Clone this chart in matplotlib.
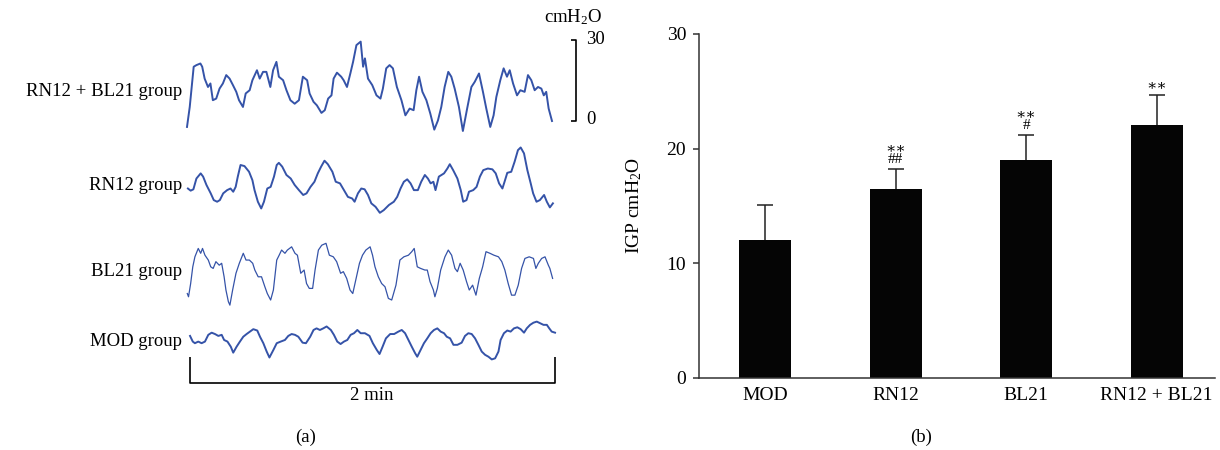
import matplotlib
matplotlib.use('Agg')
import matplotlib.pyplot as plt
import numpy as np

plt.rcParams['font.family'] = ['Liberation Serif', 'DejaVu Serif']
plt.rcParams['mathtext.fontset'] = 'custom'
plt.rcParams['mathtext.rm'] = 'Liberation Serif'
plt.rcParams['mathtext.it'] = 'Liberation Serif:italic'

# --- panel (a): pressure traces, time in s, pressure in cmH2O ---
t_combo = [0, 0.9, 2.2, 3.1, 4.4, 5.0, 5.8, 6.9, 7.7, 8.5, 9.6, 10.7, 11.8, 12.9, 14.0, 15.1, 16.2, 17.1,
           18.4, 19.3, 20.6, 21.5, 23.0, 23.9, 25.0, 26.1, 27.4, 28.3, 29.4, 30.2, 31.6, 32.7, 34.0, 35.4,
           36.8, 38.1, 39.5, 40.3, 41.6, 42.7, 44.2, 45.3, 46.4, 47.5, 48.2, 49.3, 50.7, 51.5, 52.6, 53.7,
           54.6, 55.7, 57.1, 57.9, 58.5, 59.5, 60.9, 62.3, 63.6, 64.4, 65.5, 66.6, 67.7, 69.0, 70.5, 71.8,
           73.2, 74.5, 75.4, 76.3, 77.4, 78.7, 80.0, 81.3, 82.5, 83.6, 84.7, 85.9, 86.9, 88.0, 89.4, 90.7,
           92.1, 93.5, 94.6, 96.0, 97.3, 98.4, 99.7, 100.8, 101.7, 103.0, 104.1, 105.2, 106.1, 107.2, 108.5,
           109.6, 111.0, 112.1, 113.2, 114.3, 115.4, 116.5, 117.3, 118.1, 118.9, 120.0]
p_combo = [-2.2, 5.2, 20.1, 20.7, 21.3, 20.1, 15.7, 12.6, 13.9, 7.7, 8.3, 12.0, 13.9, 17.0, 15.7, 13.3, 10.8,
           7.7, 5.2, 10.2, 11.4, 15.1, 18.8, 15.7, 18.2, 18.2, 12.6, 18.8, 21.9, 16.4, 15.1, 11.4, 7.7, 6.4,
           7.7, 16.4, 15.1, 10.2, 7.1, 5.8, 3.0, 4.0, 8.3, 9.5, 15.7, 17.9, 16.4, 15.1, 12.6, 17.6, 21.9,
           28.1, 29.4, 20.1, 23.2, 15.7, 13.3, 9.5, 8.3, 12.0, 19.5, 20.7, 19.5, 12.6, 7.7, 2.1, 4.6, 4.0,
           11.4, 16.4, 10.8, 7.7, 2.7, -3.2, 0.2, 5.2, 12.6, 18.2, 16.4, 12.0, 5.2, -3.7, 4.6, 12.6, 14.5,
           17.6, 10.8, 4.6, -2.2, 2.1, 8.9, 15.1, 19.5, 16.4, 18.8, 13.9, 9.5, 11.4, 10.8, 17.0, 15.1, 11.4,
           12.6, 12.0, 9.5, 10.8, 4.6, 0.0]

t_rn12 = [0, 0.9, 1.8, 2.8, 4.2, 5.0, 6.1, 7.5, 8.5, 9.6, 10.5, 11.6, 12.9, 14.0, 14.9, 15.7, 16.4, 17.3,
          18.6, 20.1, 21.2, 21.9, 23.0, 24.1, 25.0, 26.1, 27.2, 28.3, 29.2, 29.9, 31.0, 32.4, 33.8, 35.1,
          36.5, 37.9, 39.0, 40.3, 41.6, 42.7, 43.8, 44.9, 46.0, 47.5, 48.6, 50.0, 51.3, 52.6, 54.0, 54.8,
          55.9, 57.0, 58.1, 59.2, 60.3, 61.7, 63.1, 64.4, 66.1, 67.7, 68.8, 69.9, 71.0, 72.1, 73.2, 74.3,
          75.6, 76.7, 77.9, 78.9, 79.8, 80.7, 81.4, 82.5, 84.2, 85.3, 86.1, 87.2, 88.6, 89.7, 90.5, 91.6,
          92.4, 93.8, 94.9, 96.0, 97.1, 98.6, 100.1, 101.2, 102.3, 103.4, 104.1, 105.0, 106.3, 107.4, 108.5,
          109.4, 110.5, 111.6, 112.7, 113.5, 114.6, 115.7, 117.1, 118.0, 119.0, 120.0]
p_rn12 = [8.0, 7.2, 7.7, 11.7, 13.6, 12.4, 9.3, 6.2, 3.7, 3.1, 3.7, 6.2, 7.4, 8.0, 6.8, 8.6, 12.4, 16.7,
          16.3, 14.2, 11.1, 7.4, 3.1, 0.6, 3.1, 8.0, 8.6, 12.4, 16.7, 17.5, 16.1, 13.0, 11.7, 9.3, 7.4, 5.6,
          6.2, 8.6, 10.5, 13.6, 16.1, 18.3, 17.0, 14.2, 10.5, 9.9, 7.4, 4.9, 4.3, 3.1, 6.2, 8.0, 7.7, 5.6,
          2.5, 1.2, -1.0, 0.0, 1.9, 3.1, 4.9, 8.0, 10.5, 11.4, 9.9, 7.4, 7.4, 10.5, 13.0, 11.7, 9.9, 10.5,
          7.4, 12.4, 13.6, 15.4, 17.0, 14.8, 11.7, 7.4, 3.1, 3.7, 6.8, 7.4, 8.6, 12.4, 14.8, 15.4, 15.1,
          13.6, 9.9, 8.0, 10.5, 13.8, 14.2, 17.9, 22.2, 23.2, 21.0, 14.8, 9.9, 6.2, 3.1, 3.7, 5.6, 3.1,
          1.0, 2.5]

t_bl21 = [0, 0.4, 1.1, 1.8, 2.5, 3.6, 4.4, 5.0, 5.8, 6.9, 7.7, 8.5, 9.4, 10.5, 11.3, 12.1, 12.7, 13.5,
          14.0, 14.9, 16.0, 17.1, 18.4, 19.3, 20.4, 21.5, 22.2, 23.3, 24.4, 25.5, 26.3, 27.4, 28.3, 29.4,
          30.2, 31.0, 32.1, 32.9, 34.3, 35.4, 36.2, 37.3, 38.4, 39.2, 40.1, 41.2, 42.0, 43.1, 44.2, 45.6,
          46.7, 48.0, 49.1, 50.4, 51.3, 52.4, 53.5, 54.4, 55.5, 56.6, 57.6, 58.7, 60.1, 60.9, 61.7, 62.8,
          63.9, 65.0, 66.1, 67.2, 68.6, 69.9, 71.2, 72.7, 73.8, 74.6, 75.6, 76.7, 78.1, 78.9, 79.8, 80.9,
          81.4, 82.2, 83.3, 84.7, 85.8, 86.9, 88.0, 88.8, 89.7, 90.7, 91.8, 92.7, 93.8, 94.9, 96.0, 97.1,
          98.2, 99.5, 100.8, 102.3, 103.4, 104.4, 105.5, 106.6, 107.7, 108.8, 109.9, 111.0, 112.4, 113.8,
          114.6, 115.4, 116.5, 117.6, 118.7, 119.2, 120.1]
p_bl21 = [4.9, 3.7, 8.6, 14.8, 18.5, 21.6, 19.8, 21.6, 19.1, 17.3, 14.8, 14.2, 16.7, 15.4, 16.1, 11.1, 6.2,
          1.9, 0.6, 6.2, 12.4, 16.1, 19.8, 17.3, 17.3, 16.1, 13.6, 11.1, 11.1, 7.4, 4.9, 2.5, 6.2, 17.3,
          19.1, 21.0, 19.8, 21.0, 22.2, 19.8, 19.1, 12.4, 13.6, 8.6, 6.8, 6.8, 13.6, 21.0, 22.8, 23.5, 19.1,
          18.5, 16.7, 12.4, 13.0, 10.5, 6.2, 4.9, 10.5, 16.1, 19.1, 21.0, 22.2, 19.1, 14.8, 11.1, 8.6, 7.4,
          3.1, 2.5, 8.0, 17.3, 18.5, 19.1, 20.4, 21.6, 14.8, 14.2, 13.6, 13.6, 9.3, 6.2, 3.7, 6.8, 13.6,
          18.5, 21.0, 19.1, 14.2, 13.0, 16.1, 13.6, 9.3, 6.2, 8.0, 4.3, 10.5, 14.8, 20.4, 19.8, 19.1, 18.5,
          16.7, 13.6, 8.6, 4.3, 4.3, 8.0, 14.2, 17.9, 18.5, 17.9, 14.2, 16.1, 17.9, 18.5, 15.4, 14.2, 10.5]

t_mod = [0, 0.9, 1.6, 2.7, 3.8, 4.9, 6.0, 7.1, 8.2, 9.3, 10.4, 11.2, 12.3, 13.4, 14.2, 15.3, 16.4, 17.5,
         18.6, 19.7, 20.8, 22.1, 23.0, 24.1, 25.2, 26.1, 27.4, 28.5, 29.8, 31.2, 32.3, 33.4, 34.5, 35.6,
         37.0, 38.1, 39.5, 40.6, 41.6, 42.7, 43.8, 44.9, 46.3, 47.3, 48.4, 49.5, 50.6, 51.7, 52.8, 53.9,
         55.0, 56.1, 57.5, 59.0, 60.1, 61.4, 62.3, 63.3, 64.4, 65.8, 67.1, 68.5, 69.6, 70.7, 71.8, 72.9,
         74.0, 74.7, 75.8, 76.9, 78.0, 79.1, 80.2, 81.3, 82.4, 83.5, 84.4, 85.5, 86.6, 87.9, 89.3, 90.4,
         91.5, 92.6, 93.7, 94.8, 95.9, 97.0, 98.1, 99.2, 100.3, 101.4, 102.1, 103.2, 104.3, 105.4, 106.5,
         107.6, 108.7, 109.8, 110.7, 111.8, 112.9, 114.0, 115.1, 116.2, 117.3, 118.1, 118.9, 120.0]
p_mod = [8.9, 6.8, 6.2, 6.8, 6.2, 6.8, 9.3, 10.1, 9.6, 8.9, 9.3, 7.4, 6.8, 4.9, 2.7, 4.9, 6.8, 8.6, 9.6,
         10.5, 11.4, 10.9, 8.6, 6.2, 3.1, 0.9, 3.7, 6.2, 6.8, 7.4, 8.9, 9.6, 9.3, 8.6, 6.4, 6.2, 8.6, 11.1,
         11.7, 11.1, 11.7, 12.4, 11.1, 9.3, 6.8, 5.9, 6.8, 7.4, 9.3, 9.9, 11.1, 9.9, 9.9, 8.9, 6.2, 3.7,
         2.2, 4.9, 8.0, 9.6, 9.6, 10.5, 11.1, 9.9, 7.4, 4.9, 2.5, 1.2, 3.7, 6.2, 8.0, 9.9, 11.1, 11.7,
         10.5, 9.9, 8.6, 8.0, 5.6, 5.6, 6.4, 8.9, 9.9, 9.6, 8.0, 5.6, 3.1, 1.9, 1.2, 0.2, 0.6, 3.1, 7.4,
         9.9, 10.9, 10.5, 11.7, 12.1, 11.4, 10.1, 11.7, 13.0, 13.8, 14.2, 13.6, 13.0, 13.0, 11.7, 10.5, 10.1]

trace_names = ['RN12 + BL21 group', 'RN12 group', 'BL21 group', 'MOD group']

# --- panel (b): IGP bar chart ---
bar_labels = ['MOD', 'RN12', 'BL21', 'RN12 + BL21']
igp_mean = [12.0, 16.5, 19.0, 22.1]
igp_sd = [3.1, 1.75, 2.2, 2.6]
sig_star = ['', '∗∗', '∗∗', '∗∗']
sig_hash = ['', '##', '#', '']

W, H = 1220, 450
BLUE = '#3553a8'


def px(x, y):
    # pixel position (from top-left) -> figure fraction
    return x / W, 1 - y / H


def plot_traces(fig):
    # axis spans the trace width; y in cmH2O with the top trace baseline at 0
    ax = fig.add_axes([187 / W, 0, 365 / W, 1])
    ax.set_xlim(0, 120)
    ax.set_ylim((121 - H) / 2.7, 121 / 2.7)
    ax.axis('off')

    traces = [(t_combo, p_combo, 0.0, 0.0, 1.4),
              (t_rn12, p_rn12, -33.0, 0.3, 1.4),
              (t_bl21, p_bl21, -68.8, 0.1, 0.9),
              (t_mod, p_mod, -88.5, 1.0, 1.4)]
    for t, p, off, shift, lw in traces:
        ax.plot(np.array(t) + shift, np.array(p) + off, color=BLUE, lw=lw,
                solid_joinstyle='round', clip_on=False)

    # pressure scale bar (0-30 cmH2O)
    kw = dict(color='black', lw=1.2, clip_on=False, solid_capstyle='butt')
    ax.plot([126.2, 127.9, 127.9, 126.2], [30, 30, 0, 0], **kw)
    # time bracket (2 min)
    ax.plot([1, 1, 121, 121], [-87.4, -97.0, -97.0, -87.4], **kw)

    label_y = [92, 185, 272, 341]
    for name, y in zip(trace_names, label_y):
        fig.text(*px(182, y), name, ha='right', va='center', fontsize=13.5)

    fig.text(*px(602, 17), 'cmH$_2$O', ha='right', va='center', fontsize=13.5)
    fig.text(*px(586, 39), '30', ha='left', va='center', fontsize=13.5)
    fig.text(*px(586, 119), '0', ha='left', va='center', fontsize=13.5)
    fig.text(*px(372, 396), '2 min', ha='center', va='center', fontsize=13.5)
    fig.text(*px(306, 437), '(a)', ha='center', va='center', fontsize=13.5)


def plot_bars(fig):
    ax = fig.add_axes([699.3 / W, (H - 377.7) / H, 516 / W, 343.7 / H])
    x = np.arange(len(bar_labels))
    mean = np.array(igp_mean)
    sd = np.array(igp_sd)
    ax.bar(x, mean, width=0.4, color='#050505', zorder=2)
    # upper error bar only, cap at the top
    ax.vlines(x, mean, mean + sd, color='#222222', lw=1.1, zorder=1)
    ax.plot(x, mean + sd, ls='none', marker='_', markersize=11,
            markeredgewidth=1.1, color='#222222', zorder=1)

    for xi, top, st, hs in zip(x, mean + sd, sig_star, sig_hash):
        if not st:
            continue
        label = st + '\n' + hs if hs else st
        ax.text(xi, top + 0.25, label, ha='center', va='bottom', fontsize=11,
                linespacing=0.8)

    ax.set_xlim(-0.507, 3.45)
    ax.set_ylim(0, 30)
    ax.set_yticks([0, 10, 20, 30])
    ax.set_xticks(x)
    ax.set_xticklabels(bar_labels)
    ax.tick_params(axis='y', direction='out', length=4.5, width=1.1, pad=5,
                   labelsize=14, color='#333333')
    ax.tick_params(axis='x', length=0, pad=7, labelsize=14)
    for side in ['top', 'right']:
        ax.spines[side].set_visible(False)
    for side in ['left', 'bottom']:
        ax.spines[side].set_color('#333333')
        ax.spines[side].set_linewidth(1.1)
    ax.set_ylabel('IGP cmH$_2$O', fontsize=14)
    ax.yaxis.set_label_coords((644 - 699.3) / 516, 0.5)

    fig.text(*px(921, 437), '(b)', ha='center', va='center', fontsize=13.5)


def main():
    fig = plt.figure(figsize=(W / 100, H / 100), dpi=100)
    plot_traces(fig)
    plot_bars(fig)
    fig.savefig('out.png', dpi=100)
    plt.close(fig)


if __name__ == "__main__":
    main()
